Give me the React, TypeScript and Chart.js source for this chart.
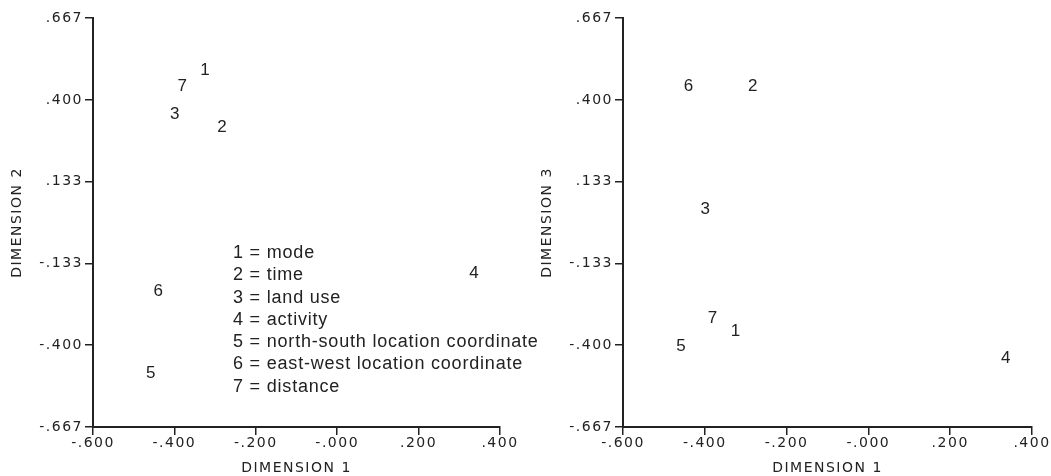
import React, { useEffect, useRef } from "react";
import { Chart, registerables } from "chart.js";

Chart.register(...registerables);

// ---- data ----
const itemIds = ["1", "2", "3", "4", "5", "6", "7"];
const dimension1 = [-0.325, -0.283, -0.399, 0.336, -0.458, -0.44, -0.381];
const dimension2 = [0.497, 0.311, 0.354, -0.165, -0.491, -0.223, 0.445];
const dimension3 = [-0.354, 0.445, 0.044, -0.442, -0.403, 0.445, -0.311];

const xTickValues = [-0.6, -0.4, -0.2, 0, 0.2, 0.4];
const xTickLabels = ["-.600", "-.400", "-.200", "-.000", ".200", ".400"];
const yTickValues = [-0.667, -0.4, -0.133, 0.133, 0.4, 0.667];
const yTickLabels = ["-.667", "-.400", "-.133", ".133", ".400", ".667"];

const legendLines = [
  "1 = mode",
  "2 = time",
  "3 = land use",
  "4 = activity",
  "5 = north-south location coordinate",
  "6 = east-west location coordinate",
  "7 = distance",
];

const INK = "#222";
const AXIS_FONT = '"DejaVu Sans", sans-serif';
const TEXT_FONT = '"Liberation Sans", Arial, sans-serif';

type PanelProps = {
  yValues: number[];
  yTitle: string;
  left: number;
  width: number;
  yAxisWidth: number;
  rightPad: number;
  yTitlePad: number;
  showLegend: boolean;
};

function makePlugin(showLegend: boolean) {
  return {
    id: "numberLabels",
    beforeDraw(chart: any) {
      chart.ctx.letterSpacing = "1.5px";
    },
    beforeDatasetsDraw(chart: any) {
      chart.ctx.letterSpacing = "0px";
    },
    afterDatasetsDraw(chart: any) {
      const ctx = chart.ctx;
      const meta = chart.getDatasetMeta(0);
      ctx.save();
      ctx.letterSpacing = "0px";
      ctx.font = `17px ${TEXT_FONT}`;
      ctx.fillStyle = INK;
      ctx.textAlign = "center";
      ctx.textBaseline = "middle";
      meta.data.forEach((pt: any, i: number) => {
        ctx.fillText(itemIds[i], pt.x, pt.y);
      });
      if (showLegend) {
        const area = chart.chartArea;
        ctx.font = `18px ${TEXT_FONT}`;
        ctx.letterSpacing = "0.8px";
        ctx.textAlign = "left";
        legendLines.forEach((line, i) => {
          ctx.fillText(line, area.left + 140, area.top + 235 + i * 22.3);
        });
      }
      ctx.restore();
    },
  };
}

function Panel({ yValues, yTitle, left, width, yAxisWidth, rightPad, yTitlePad, showLegend }: PanelProps) {
  const ref = useRef<HTMLCanvasElement | null>(null);
  useEffect(() => {
    if (!ref.current) return;
    const chart = new Chart(ref.current, {
      type: "scatter",
      data: {
        datasets: [
          {
            data: dimension1.map((x, i) => ({ x, y: yValues[i] })),
            pointRadius: 0,
            pointHoverRadius: 0,
            showLine: false,
          },
        ],
      },
      options: {
        responsive: false,
        animation: false,
        layout: { padding: { left: 0, right: rightPad, top: 18, bottom: 0 } },
        plugins: { legend: { display: false }, tooltip: { enabled: false } },
        scales: {
          x: {
            type: "linear",
            min: -0.6,
            max: 0.4,
            afterBuildTicks: (scale: any) => {
              scale.ticks = xTickValues.map((v) => ({ value: v }));
            },
            afterFit: (scale: any) => {
              scale.height = 49;
            },
            ticks: {
              autoSkip: false,
              maxRotation: 0,
              minRotation: 0,
              padding: 0,
              color: INK,
              font: { family: AXIS_FONT, size: 14 },
              callback: (_v: any, i: number) => xTickLabels[i],
            },
            grid: {
              display: true,
              drawOnChartArea: false,
              drawTicks: true,
              tickLength: 8,
              color: INK,
              lineWidth: 1.5,
            },
            border: { display: true, color: INK, width: 2 },
            title: {
              display: true,
              text: "DIMENSION 1",
              color: INK,
              font: { family: AXIS_FONT, size: 14, lineHeight: 1 },
              padding: { top: 0, bottom: 1 },
            },
          },
          y: {
            type: "linear",
            min: -0.667,
            max: 0.667,
            afterBuildTicks: (scale: any) => {
              scale.ticks = yTickValues.map((v) => ({ value: v }));
            },
            afterFit: (scale: any) => {
              scale.width = yAxisWidth;
            },
            ticks: {
              autoSkip: false,
              padding: 2,
              color: INK,
              font: { family: AXIS_FONT, size: 14 },
              callback: (_v: any, i: number) => yTickLabels[i],
            },
            grid: {
              display: true,
              drawOnChartArea: false,
              drawTicks: true,
              tickLength: 8,
              color: INK,
              lineWidth: 1.5,
            },
            border: { display: true, color: INK, width: 2 },
            title: {
              display: true,
              text: yTitle,
              color: INK,
              font: { family: AXIS_FONT, size: 14, lineHeight: 1 },
              padding: { top: yTitlePad, bottom: 0 },
            },
          },
        },
      },
      plugins: [makePlugin(showLegend)],
    } as any);
    return () => chart.destroy();
  }, []);
  return (
    <canvas
      ref={ref}
      width={width}
      height={476}
      style={{ position: "absolute", left, top: 0, display: "block", width, height: 476 }}
    />
  );
}

export default function App() {
  return (
    <div
      style={{
        position: "absolute",
        left: 0,
        top: 0,
        width: 1051,
        height: 476,
        background: "#fff",
        overflow: "hidden",
      }}
    >
      <Panel
        yValues={dimension2}
        yTitle="DIMENSION 2"
        left={0}
        width={560}
        yAxisWidth={93}
        rightPad={60}
        yTitlePad={10.5}
        showLegend={true}
      />
      <Panel
        yValues={dimension3}
        yTitle="DIMENSION 3"
        left={520}
        width={531}
        yAxisWidth={103}
        rightPad={19}
        yTitlePad={20.5}
        showLegend={false}
      />
    </div>
  );
}
